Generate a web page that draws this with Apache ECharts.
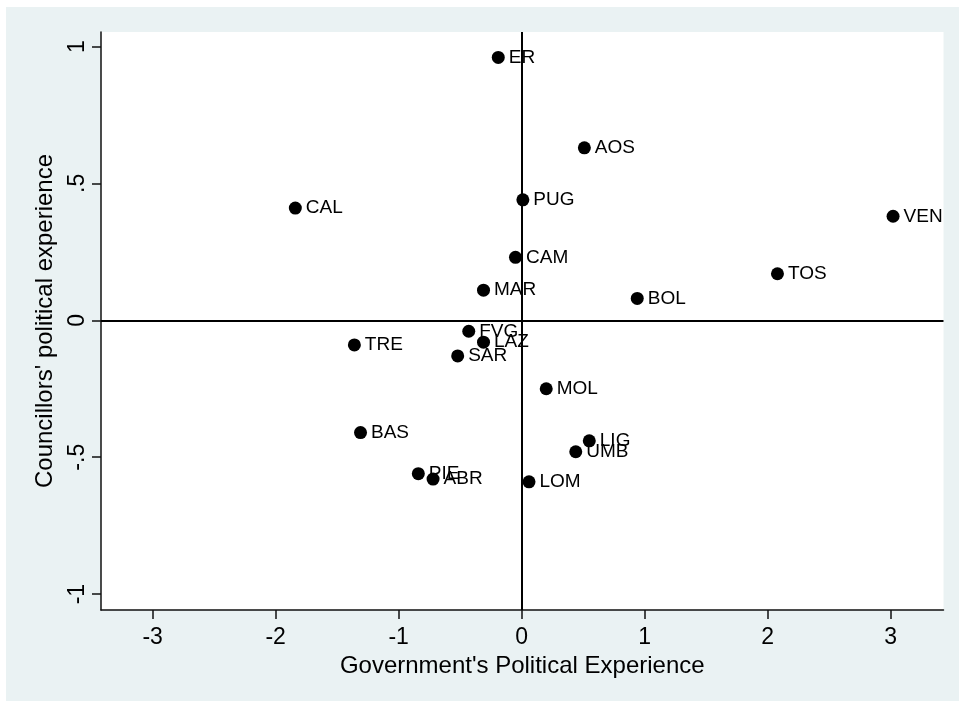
<!DOCTYPE html>
<html>
<head>
<meta charset="utf-8">
<script src="https://cdn.jsdelivr.net/npm/echarts@6/dist/echarts.min.js"></script>
<style>
html,body{margin:0;padding:0;background:#fff;}
#chart{width:959px;height:701px;}
</style>
</head>
<body>
<div id="chart"></div>
<script>
const regions = ['ER','AOS','CAL','PUG','VEN','CAM','TOS','MAR','BOL','FVG','TRE','LAZ','SAR','MOL','BAS','LIG','UMB','PIE','ABR','LOM'];
const govExp  = [-0.19, 0.51, -1.84, 0.01, 3.02, -0.05, 2.08, -0.31, 0.94, -0.43, -1.36, -0.31, -0.52, 0.20, -1.31, 0.55, 0.44, -0.84, -0.72, 0.06];
const councExp = [0.96, 0.63, 0.41, 0.44, 0.38, 0.23, 0.17, 0.11, 0.08, -0.04, -0.09, -0.08, -0.13, -0.25, -0.41, -0.44, -0.48, -0.56, -0.58, -0.59];
const xTicks = [-3, -2, -1, 0, 1, 2, 3];
const yTicks = [-1, -0.5, 0, 0.5, 1];
const xTitle = "Government's Political Experience";
const yTitle = "Councillors' political experience";

const points = regions.map((r, i) => ({ name: r, value: [govExp[i], councExp[i]] }));
const fmtY = v => {
  if (v === 0) return '0';
  let s = String(v);
  return s.replace(/^(-?)0\./, '$1.');
};

const chart = echarts.init(document.getElementById('chart'), null, { renderer: 'canvas' });
const FONT = "'Liberation Sans', Arial, sans-serif";
chart.setOption({
  animation: false,
  backgroundColor: '#ffffff',
  graphic: [{
    type: 'rect', z: -10, silent: true,
    shape: { x: 6, y: 7, width: 953, height: 694 },
    style: { fill: '#EAF2F3' }
  }],
  grid: {
    left: 101, top: 32, right: 15.5, bottom: 91,
    show: true, backgroundColor: '#ffffff', borderWidth: 0
  },
  xAxis: {
    type: 'value', min: -3.42, max: 3.43,
    name: xTitle, nameLocation: 'middle', nameGap: 38,
    nameTextStyle: { fontSize: 24, color: '#000', fontFamily: FONT },
    axisLine: { show: true, onZero: false, lineStyle: { color: '#111', width: 1.5 } },
    axisTick: { show: true, length: 9, customValues: xTicks, lineStyle: { color: '#111', width: 1.5 } },
    axisLabel: { customValues: xTicks, margin: 16, fontSize: 23, color: '#000', fontFamily: FONT, formatter: v => String(v) },
    splitLine: { show: false }
  },
  yAxis: {
    type: 'value', min: -1.058, max: 1.053,
    name: yTitle, nameLocation: 'middle', nameGap: 44,
    nameTextStyle: { fontSize: 24, color: '#000', fontFamily: FONT },
    axisLine: { show: true, onZero: false, lineStyle: { color: '#111', width: 1.5 } },
    axisTick: { show: true, length: 9, customValues: yTicks, lineStyle: { color: '#111', width: 1.5 } },
    axisLabel: { customValues: yTicks, rotate: 90, margin: 12, fontSize: 23, color: '#000', fontFamily: FONT, formatter: fmtY },
    splitLine: { show: false }
  },
  series: [{
    type: 'scatter',
    data: points,
    symbol: 'circle',
    symbolSize: 13,
    itemStyle: { color: '#000', opacity: 1 },
    label: {
      show: true, position: 'right', distance: 4,
      formatter: p => p.name,
      fontSize: 19, color: '#000', fontFamily: FONT
    },
    markLine: {
      silent: true, symbol: 'none', animation: false,
      label: { show: false },
      lineStyle: { color: '#000', width: 2, type: 'solid', opacity: 1 },
      data: [{ xAxis: 0 }, { yAxis: 0 }]
    },
    z: 3
  }]
});
</script>
</body>
</html>
